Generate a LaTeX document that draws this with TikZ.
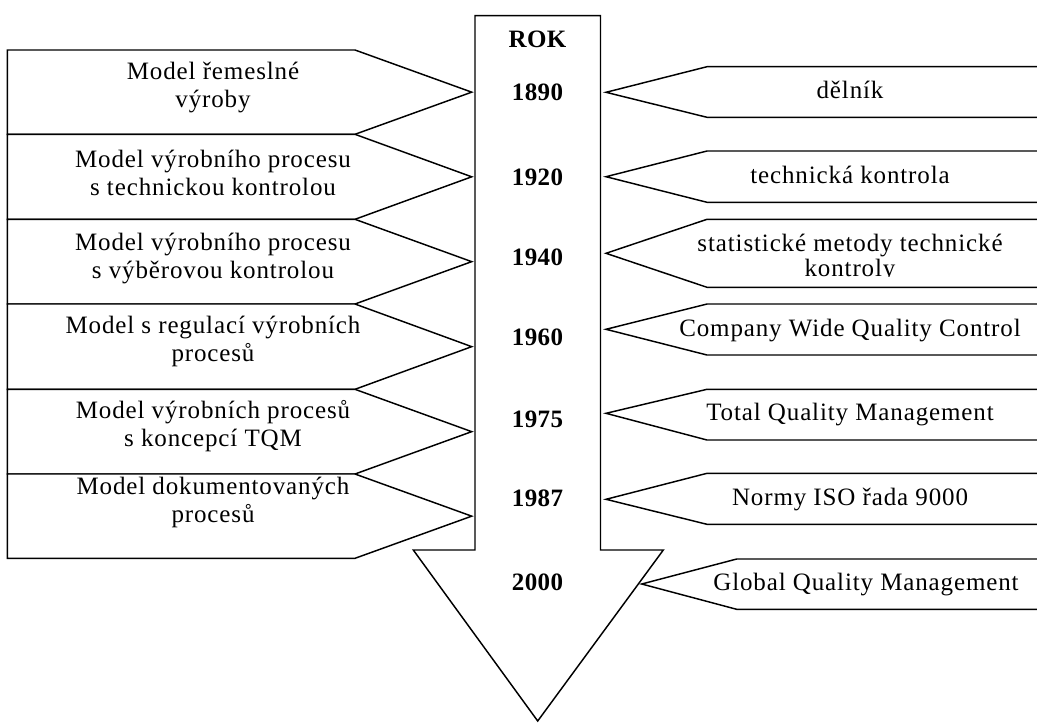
\documentclass[tikz,border=0pt]{standalone}
\usepackage{fontspec}
\setmainfont{Liberation Serif}[LetterSpace=3.5]
\newfontfamily\yearfont{Liberation Serif}[LetterSpace=1.5]

\begin{document}
\begin{tikzpicture}[x=0.75pt,y=-0.75pt,line width=1.1pt,line join=miter,
  frame/.style={draw=black,fill=white},
  lefttext/.style={font=\fontsize{18.75}{21}\selectfont,align=center,inner sep=0pt},
  righttext/.style={font=\fontsize{18.75}{19}\selectfont,align=center,inner sep=0pt},
  yearlabel/.style={font=\yearfont\bfseries\fontsize{18.75}{19}\selectfont,inner sep=0pt}]

\useasboundingbox (0,0) rectangle (1037,722);

% left-hand production models: pentagons pointing at the time axis
\foreach \top/\bot in {50/134.3, 134.3/219.3, 219.3/304, 304/389.3, 389.3/474, 474/558.3}{
  \draw[frame] (7.3,\top) -- (355,\top) -- (471.7,{(\top+\bot)/2}) -- (355,\bot) -- (7.3,\bot) -- cycle;
}

% central time axis: a broad downward arrow
\draw[frame] (475,15.7) -- (600.5,15.7) -- (600.5,550) -- (663.3,550)
  -- (537.7,721) -- (413.3,550) -- (475,550) -- cycle;

% right-hand quality concepts: open-ended tags pointing back at the axis
\foreach \top/\tip/\bot in {66.7/92.3/117.3, 151/176.7/202.3, 219.3/253.3/287.3,
    304/329.3/355, 389.3/413.3/440, 473.3/499.3/524.3}{
  \draw[fill=white] (1037,\top) -- (707,\top) -- (606,\tip) -- (707,\bot) -- (1037,\bot);
}
\draw[fill=white] (1037,559) -- (736.7,559) -- (641.7,584) -- (736.7,609.3) -- (1037,609.3);

% years along the axis
\node[yearlabel] (rok) at (537.5,39) {ROK};
\node[yearlabel] (y1890) at (537.5,92) {1890};
\node[yearlabel] (y1920) at (537.5,177) {1920};
\node[yearlabel] (y1940) at (537.5,257) {1940};
\node[yearlabel] (y1960) at (537.5,337) {1960};
\node[yearlabel] (y1975) at (537.5,419) {1975};
\node[yearlabel] (y1987) at (537.5,498) {1987};
\node[yearlabel] (y2000) at (537.5,582) {2000};

% production models
\node[lefttext] (m1) at (213,87) {Model řemeslné\\výroby};
\node[lefttext] (m2) at (213,173) {Model výrobního procesu\\s technickou kontrolou};
\node[lefttext] (m3) at (213,258) {Model výrobního procesu\\s výběrovou kontrolou};
\node[lefttext] (m4) at (213,341) {Model s regulací výrobních\\procesů};
\node[lefttext] (m5) at (213,426) {Model výrobních procesů\\s koncepcí TQM};
\node[lefttext] (m6) at (213,502) {Model dokumentovaných\\procesů};

% quality concepts, set on the baseline just below each tip
\node[righttext,anchor=base] (c1) at (850,98.8) {dělník};
\node[righttext,anchor=base] (c2) at (850,183.2) {technická kontrola};
\begin{scope}
  % the text frame cuts the second line off at its baseline
  \clip (610,219.3) rectangle (1037,276.5);
  \node[righttext] (c3) at (850,258) {statistické metody technické\\kontroly};
\end{scope}
\node[righttext,anchor=base] (c4) at (850,336) {Company Wide Quality Control};
\node[righttext,anchor=base] (c5) at (850,420) {Total Quality Management};
\node[righttext,anchor=base] (c6) at (850,505.5) {Normy ISO řada 9000};
\node[righttext,anchor=base] (c7) at (866,590.5) {Global Quality Management};
\end{tikzpicture}
\end{document}
